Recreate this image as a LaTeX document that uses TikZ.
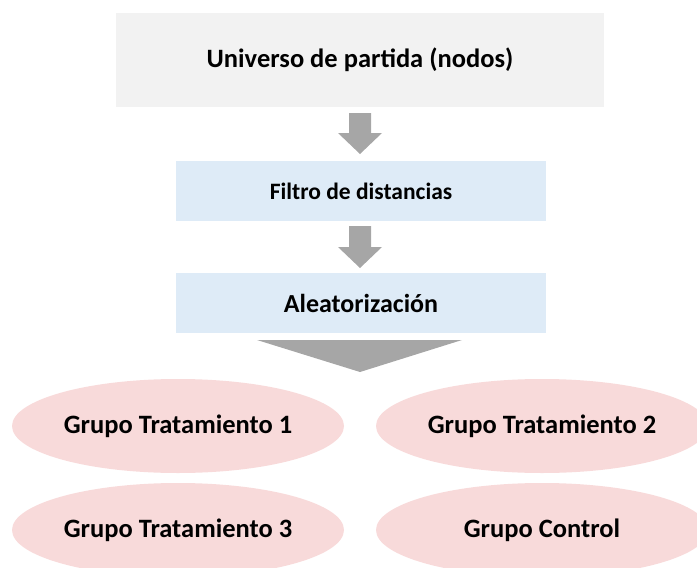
\documentclass[tikz,border=0pt]{standalone}
\usepackage{fontspec}
\setmainfont{Carlito}
\usetikzlibrary{calc,shapes.geometric}
\definecolor{topgray}{HTML}{F2F2F2}
\definecolor{boxblue}{HTML}{DEEBF7}
\definecolor{ellpink}{HTML}{F8DADA}
\definecolor{arrgray}{HTML}{A6A6A6}
\tikzset{
  x=1pt,y=1pt,
  box/.style={rectangle,inner sep=0pt,font=\bfseries},
  grp/.style={ellipse,fill=ellpink,inner sep=0pt,minimum width=332pt,minimum height=94pt,font=\bfseries\fontsize{26.5}{30}\selectfont},
  blockarr/.style={fill=arrgray,draw=none}
}
\begin{document}
\begin{tikzpicture}
\useasboundingbox (0,0) rectangle (697,-568);
\begin{scope}
\clip (0,0) rectangle (697,-568);
\node[box,fill=topgray,minimum width=488pt,minimum height=94pt,font=\bfseries\fontsize{26.5}{30}\selectfont] (top) at (360,-60) {Universo de partida (nodos)};
\node[box,fill=boxblue,minimum width=370pt,minimum height=60pt,font=\bfseries\fontsize{23.5}{28}\selectfont] (filt) at (361,-191) {Filtro de distancias};
\node[box,fill=boxblue,minimum width=370pt,minimum height=60pt,font=\bfseries\fontsize{26}{30}\selectfont] (alea) at (361,-303) {Aleatorización};
\node[grp] (g1) at (178,-426) {Grupo Tratamiento 1};
\node[grp] (g2) at (542,-426) {Grupo Tratamiento 2};
\node[grp] (g3) at (178,-530) {Grupo Tratamiento 3};
\node[grp] (gc) at (542,-530) {Grupo Control};
% block arrows
\fill[blockarr] (349,-113) -- (371,-113) -- (371,-133) -- (382,-133) -- (360,-154) -- (338,-133) -- (349,-133) -- cycle;
\fill[blockarr] (349,-226) -- (371,-226) -- (371,-247) -- (382,-247) -- (360,-268) -- (338,-247) -- (349,-247) -- cycle;
\fill[blockarr] (257,-340) -- (462,-340) -- (360,-372) -- cycle;
\end{scope}
\end{tikzpicture}
\end{document}
